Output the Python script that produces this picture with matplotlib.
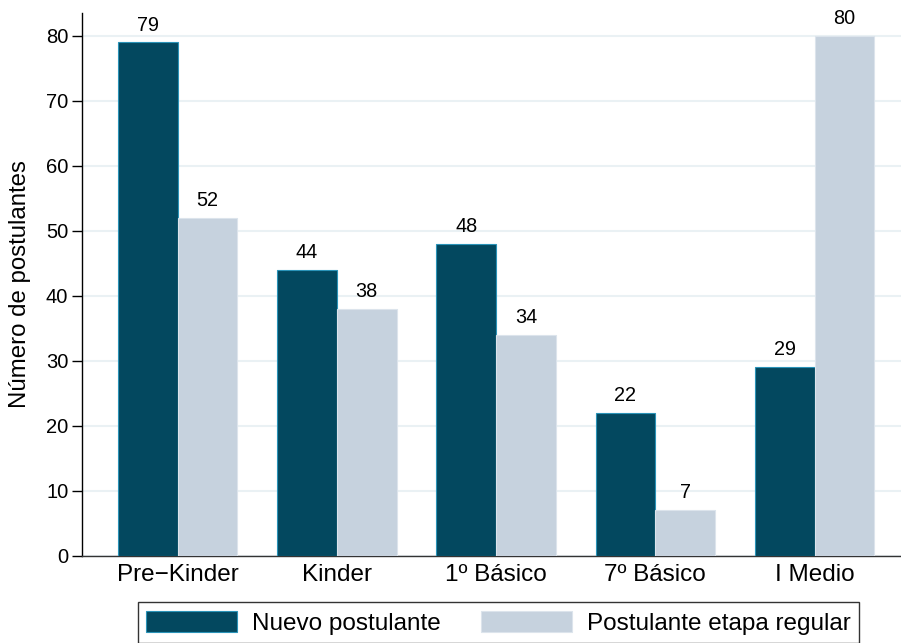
import matplotlib
matplotlib.use("Agg")
import matplotlib.pyplot as plt
import numpy as np

# datos
niveles = ["Pre\u2212Kinder", "Kinder", "1º Básico", "7º Básico", "I Medio"]
nuevo = [79, 44, 48, 22, 29]
regular = [52, 38, 34, 7, 80]
series = ["Nuevo postulante", "Postulante etapa regular"]
yticks = [0, 10, 20, 30, 40, 50, 60, 70, 80]

plt.rcParams['font.family'] = ['Liberation Sans', 'DejaVu Sans']

c_dark = "#03485f"
c_light = "#c6d2de"

fig = plt.figure(figsize=(9.01, 6.43), dpi=100)
ax = fig.add_axes([0.0913, 0.136, 0.9087, 0.8445])

x = np.arange(len(niveles))
w = 0.375
b1 = ax.bar(x - w, nuevo, w, align='edge', color=c_dark, edgecolor="#2a93b8",
            linewidth=0.8, label=series[0], zorder=3)
b2 = ax.bar(x, regular, w, align='edge', color=c_light, edgecolor="#dce4ec",
            linewidth=0.8, label=series[1], zorder=3)

for bars, vals in ((b1, nuevo), (b2, regular)):
    for r, v in zip(bars, vals):
        ax.annotate(str(v), (r.get_x() + r.get_width() / 2, v),
                    xytext=(0, 8.5), textcoords='offset points',
                    ha='center', va='baseline', fontsize=14.3)

ax.set_xlim(-0.599, 4.543)
ax.set_ylim(0, 83.6)
ax.set_yticks(yticks)
ax.set_xticks(x)
ax.set_xticklabels(niveles, fontsize=17.5)
ax.tick_params(axis='x', length=0, pad=6)
ax.tick_params(axis='y', length=7, width=1, pad=3, labelsize=14.5)
ax.grid(axis='y', color="#eaf1f4", linewidth=1.5, zorder=0)
ax.set_axisbelow(True)

for s in ('top', 'right'):
    ax.spines[s].set_visible(False)
ax.spines['left'].set_linewidth(1)
ax.spines['bottom'].set_linewidth(1)
ax.spines['bottom'].set_color("#333333")

ax.set_ylabel("Número de postulantes", fontsize=17.3, labelpad=11)

leg = fig.legend(loc='upper center', bbox_to_anchor=(0.553, 1 - 602 / 643),
                 ncol=2, fontsize=17.5, frameon=True, fancybox=False,
                 handlelength=3.75, handleheight=1.0, handletextpad=0.6,
                 columnspacing=1.65, borderpad=0.35, borderaxespad=0)
leg.get_frame().set_edgecolor('black')
leg.get_frame().set_linewidth(1)

fig.savefig("out.png", dpi=100)
